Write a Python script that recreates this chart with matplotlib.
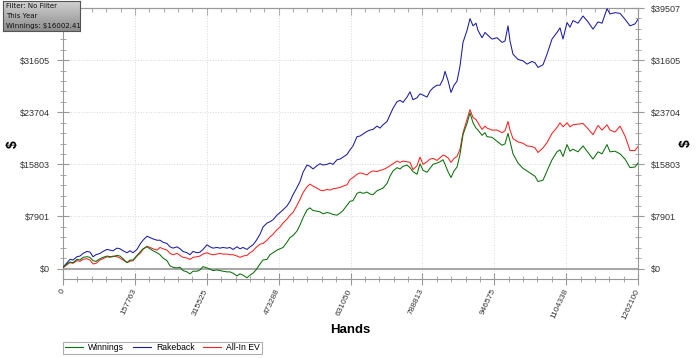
import numpy as np
import matplotlib.pyplot as plt
from matplotlib.ticker import AutoMinorLocator
from matplotlib.lines import Line2D

# hands played vs cumulative $
hands = [0, 8780, 15365, 21950, 30730, 37315, 43900, 52680, 59265, 65850,
         72435, 81215, 87800, 96580, 103165, 109750, 118530, 125115, 131700, 140480,
         147065, 153650, 162430, 169015, 175600, 184380, 190965, 197550, 206330, 212915,
         219500, 228280, 234865, 241450, 250230, 256815, 263400, 272180, 278765, 285350,
         294130, 300715, 307300, 316080, 322665, 329250, 338030, 344615, 351200, 359980,
         366565, 373150, 381930, 388515, 395100, 403880, 410465, 417050, 423635, 432415,
         439000, 447780, 454365, 460950, 469730, 476315, 482900, 491680, 498265, 504850,
         513630, 520215, 526800, 535580, 542165, 548750, 557530, 564115, 570700, 579480,
         586065, 592650, 601430, 608015, 614600, 623380, 629965, 636550, 645330, 651915,
         658500, 667280, 673865, 680450, 689230, 695815, 702400, 711180, 717765, 724350,
         733130, 739715, 746300, 755080, 761665, 768250, 777030, 783615, 790200, 798980,
         805565, 812150, 820930, 827515, 834100, 838490, 845075, 851660, 858245, 864830,
         871415, 878000, 886780, 893365, 899950, 906535, 910925, 919705, 926290, 930680,
         941655, 952630, 963605, 970190, 976775, 981165, 987750, 998725, 1009700, 1018480,
         1029455, 1036040, 1042625, 1053600, 1062380, 1073355, 1084330, 1090915, 1097500, 1106280,
         1112865, 1119450, 1130425, 1141400, 1152375, 1163350, 1174325, 1183105, 1194080, 1200665,
         1211640, 1222615, 1233590, 1244565, 1255540, 1262100]

rakeback = [200, 900, 1400, 1300, 1800, 1900, 2300, 2600, 2500, 1800,
            2100, 2300, 2600, 2900, 2800, 2700, 3100, 3000, 2700, 2400,
            2700, 2400, 2900, 3700, 4300, 4900, 4700, 4500, 4300, 4300,
            4000, 3800, 3300, 3100, 3300, 3000, 2600, 2400, 2100, 2600,
            2400, 2500, 2900, 3600, 3300, 3100, 3200, 3100, 3200, 3100,
            3200, 2900, 3300, 3000, 3200, 2900, 3300, 3600, 4200, 5200,
            6300, 6900, 7100, 7400, 8100, 8500, 8900, 9500, 10200, 11200,
            12300, 13200, 14600, 15700, 15500, 15100, 15600, 15900, 15700, 15800,
            16000, 15800, 16500, 16600, 16900, 17300, 18000, 18600, 20000, 20100,
            20400, 20800, 21000, 21100, 21600, 21300, 21800, 22300, 23300, 24300,
            25300, 25500, 25200, 26000, 26800, 25600, 25900, 26500, 26300, 26000,
            26900, 27400, 27800, 27800, 28700, 29900, 28500, 26700, 27800, 28400,
            30700, 34300, 36100, 37900, 36800, 37200, 36100, 35000, 35800, 35500,
            34800, 35000, 34300, 34500, 36800, 34500, 32500, 31700, 31500, 31000,
            31400, 31200, 30500, 30900, 32500, 34800, 35800, 36500, 34800, 37300,
            36600, 37600, 37200, 38300, 37400, 36300, 37400, 37200, 39400, 38600,
            38800, 38700, 37800, 36800, 37100, 37800]

allin_ev = [100, 600, 900, 800, 1200, 1100, 1400, 1500, 1300, 700,
            800, 1300, 1500, 1800, 1700, 1900, 1800, 1600, 1300, 900,
            1100, 1200, 1900, 2300, 2900, 3400, 3200, 3000, 2800, 3200,
            3000, 2800, 2300, 2100, 2300, 2000, 1700, 1600, 1400, 1700,
            1800, 1900, 2200, 2400, 2200, 2100, 2200, 2300, 2200, 2200,
            2100, 2100, 1900, 1700, 1900, 2000, 2400, 2700, 3200, 3700,
            3800, 4300, 4800, 5200, 5900, 6300, 6900, 7500, 8100, 8500,
            9600, 10500, 11500, 12400, 12800, 12500, 12200, 11900, 11800, 12000,
            11900, 12100, 12200, 12300, 12500, 12700, 13500, 13800, 14300, 14500,
            14400, 14200, 14600, 14800, 14700, 14900, 15000, 15300, 15600, 15900,
            16300, 16100, 16300, 16200, 16100, 15000, 15600, 16900, 15800, 16200,
            16600, 16700, 16400, 16800, 17200, 17100, 16800, 16100, 16700, 17000,
            18100, 20600, 22600, 24100, 22900, 22600, 22100, 21100, 21600, 21300,
            21000, 21000, 20600, 20900, 22300, 21000, 19700, 19200, 19000, 18600,
            18500, 18300, 17600, 18300, 19100, 20500, 21400, 22100, 21500, 22100,
            21500, 21800, 21900, 22000, 21200, 20300, 21700, 21000, 21800, 21000,
            20700, 21600, 20100, 17900, 17900, 18500]

winnings = [200, 700, 1000, 900, 1400, 1300, 1700, 1800, 1700, 1200,
            1100, 1500, 1700, 1900, 1800, 1800, 2000, 1900, 1500, 900,
            1300, 1300, 2000, 2500, 3000, 3300, 3000, 2700, 2400, 2100,
            1600, 1200, 400, 200, 100, 200, -300, -500, -800, -400,
            -400, -200, 300, 100, -100, -300, -200, -300, -400, -500,
            -500, -700, -1100, -800, -1000, -1400, -1000, -700, -200, 700,
            1300, 1400, 2100, 2400, 2800, 3000, 3200, 4000, 4700, 5000,
            5700, 6600, 7700, 8900, 9200, 8800, 8700, 8600, 8300, 8500,
            8400, 8200, 8100, 8400, 8800, 9600, 10200, 10300, 11400, 11600,
            11400, 11600, 11300, 11200, 11800, 12000, 12200, 12900, 14000, 14800,
            15300, 15100, 15500, 15700, 15300, 14700, 14300, 15900, 14900, 14600,
            15200, 15800, 16000, 16200, 16500, 15800, 14700, 13800, 14800, 15400,
            17300, 20300, 22000, 23600, 22100, 21300, 21000, 20200, 20600, 20000,
            19900, 19300, 18700, 18900, 20500, 19300, 17400, 16000, 15200, 14800,
            14300, 14000, 13200, 13400, 14800, 16500, 17700, 18000, 17000, 18800,
            17800, 18100, 17700, 18600, 17600, 16600, 17700, 17400, 18800, 17700,
            17800, 17400, 16600, 15300, 15400, 16000]

xticks = [0, 157763, 315525, 473288, 631050, 788813, 946575, 1104338, 1262100]
yticks = [0, 7901, 15803, 23704, 31605, 39507]

plt.rcParams['font.family'] = ['Liberation Sans', 'DejaVu Sans']

W, H = 700, 358
fig = plt.figure(figsize=(W / 100, H / 100), dpi=100)
ax = fig.add_axes([63 / W, 1 - 279 / H, 575 / W, 271 / H])

c_win = '#0a700a'
c_rb = '#1a1aa6'
c_ev = '#ff2020'

ax.plot(hands, rakeback, color=c_rb, lw=0.75, zorder=3)
ax.plot(hands, allin_ev, color=c_ev, lw=0.75, zorder=3)
ax.plot(hands, winnings, color=c_win, lw=0.75, zorder=4)
ax.axhline(0, color='#a8a8a8', lw=1.5, zorder=2)

ax.set_xlim(0, 1262100)
ax.set_ylim(-1580, 39507)

ax.set_xticks(xticks)
ax.set_xticklabels([str(v) for v in xticks], rotation=65, ha='right',
                   va='center', rotation_mode='anchor', fontsize=6, color='#333333')
ax.xaxis.set_minor_locator(AutoMinorLocator(5))
ax.set_yticks(yticks)
ax.set_yticklabels(['$%d' % v for v in yticks], fontsize=6.5, color='#333333')
ax.yaxis.set_minor_locator(AutoMinorLocator(5))

ax.tick_params(which='both', direction='inout', color='#999999',
               left=True, right=True, labelleft=True, labelright=True,
               bottom=True, top=False)
ax.tick_params(which='major', length=9, pad=3)
ax.tick_params(which='minor', length=5)
ax.tick_params(axis='y', which='major', pad=5)

# the left top label sits under the filter box in the original
ax.yaxis.get_major_ticks()[-1].label1.set_visible(False)

top = ax.secondary_xaxis('top')
top.set_xticks(xticks)
top.xaxis.set_minor_locator(AutoMinorLocator(5))
top.tick_params(which='both', direction='in', color='#999999', labeltop=False)
top.tick_params(which='major', length=5)
top.tick_params(which='minor', length=3)
top.spines['top'].set_color('#999999')

for s in ax.spines.values():
    s.set_color('#999999')

ax.grid(True, which='major', color='#d8d8d8', ls=':', lw=0.7)
ax.set_axisbelow(True)

fig.text(350 / W, 1 - 330 / H, 'Hands', ha='center', va='center',
         fontsize=9.5, fontweight='bold')
fig.text(13 / W, 1 - 144 / H, '$', ha='center', va='center', rotation=90,
         fontsize=10, fontweight='bold')
fig.text(686 / W, 1 - 143 / H, '$', ha='center', va='center', rotation=90,
         fontsize=10, fontweight='bold')

handles = [Line2D([], [], color=c_win, lw=0.8),
           Line2D([], [], color=c_rb, lw=0.8),
           Line2D([], [], color=c_ev, lw=0.8)]
leg = fig.legend(handles, ['Winnings', 'Rakeback', 'All-In EV'], ncol=3,
                 loc='lower left', bbox_to_anchor=(63 / W, 1 - 354 / H),
                 fontsize=6.2, frameon=True, fancybox=False, edgecolor='#999999',
                 handlelength=2.1, handletextpad=0.6, columnspacing=1.0,
                 borderpad=0.2, borderaxespad=0)
leg.get_frame().set_linewidth(0.8)

# filter info box with a grey gradient
box = fig.add_axes([3 / W, 1 - 31 / H, 77 / W, 30 / H])
grad = np.linspace(0.82, 0.55, 50).reshape(-1, 1)
box.imshow(grad, cmap='gray', vmin=0, vmax=1, aspect='auto', extent=(0, 1, 0, 1))
box.set_xticks([])
box.set_yticks([])
for s in box.spines.values():
    s.set_color('#555555')
    s.set_linewidth(0.8)
for i, t in enumerate(['Filter: No Filter', 'This Year', 'Winnings: $16002.41']):
    box.text(0.04, 0.82 - i * 0.32, t, transform=box.transAxes, fontsize=5.0,
             family='DejaVu Sans', va='center', ha='left', color='#111111')

fig.savefig('out.png', dpi=100)
